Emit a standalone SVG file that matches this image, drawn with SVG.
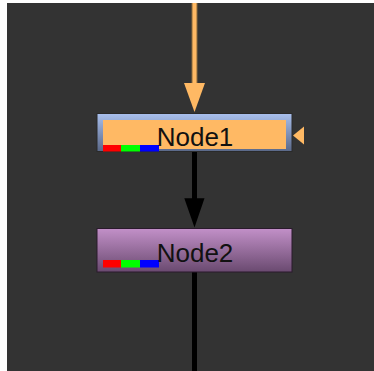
<svg xmlns="http://www.w3.org/2000/svg" width="374" height="371" viewBox="0 0 374 371">
<defs>
<linearGradient id="g1" x1="0" y1="0" x2="0" y2="1">
<stop offset="0" stop-color="#a9c0ee"/>
<stop offset="1" stop-color="#5a6888"/>
</linearGradient>
<linearGradient id="g2" x1="0" y1="0" x2="0" y2="1">
<stop offset="0" stop-color="#c290c8"/>
<stop offset="1" stop-color="#6a4a70"/>
</linearGradient>
<style>
.lbl{font-family:"Liberation Sans",Arial,sans-serif;font-size:26px;fill:#111;text-anchor:middle}
.r{fill:#ff0000}.g{fill:#00ff00}.b{fill:#0000ff}
</style>
</defs>
<rect x="0" y="0" width="374" height="371" fill="#ffffff"/>
<rect x="7" y="3" width="367" height="368" fill="#333333"/>
<g id="connectors">
<line x1="194.5" y1="3" x2="194.5" y2="86" stroke="#8a6a3c" stroke-width="6"/>
<line x1="194.5" y1="3" x2="194.5" y2="86" stroke="#ffb964" stroke-width="4"/>
<polygon points="184,83 205,83 194.5,112" fill="#ffb964"/>
<line x1="194.5" y1="152" x2="194.5" y2="201" stroke="#000" stroke-width="5"/>
<polygon points="184.3,198.3 204.5,198.3 194.5,227.5" fill="#000"/>
<line x1="194.5" y1="272" x2="194.5" y2="371" stroke="#000" stroke-width="5"/>
</g>
<g id="Node1">
<rect x="97" y="113.5" width="195" height="38" fill="url(#g1)" stroke="#2a2a2a" stroke-width="1"/>
<rect x="103" y="120" width="183" height="29" fill="#ffb964"/>
<rect class="r" x="103" y="145" width="18" height="6.5"/>
<rect class="g" x="121" y="145" width="19" height="6.5"/>
<rect class="b" x="140" y="145" width="19" height="6.5"/>
<text class="lbl" x="195" y="145.5">Node1</text>
<polygon points="293,135.5 304,126.5 304,144.5" fill="#ffb964"/>
</g>
<g id="Node2">
<rect x="97" y="228.5" width="195" height="43.5" fill="url(#g2)" stroke="#2a1a2c" stroke-width="1"/>
<rect class="r" x="103" y="260" width="18" height="7.5"/>
<rect class="g" x="121" y="260" width="19" height="7.5"/>
<rect class="b" x="140" y="260" width="19" height="7.5"/>
<text class="lbl" x="195" y="262.3">Node2</text>
</g>
</svg>
